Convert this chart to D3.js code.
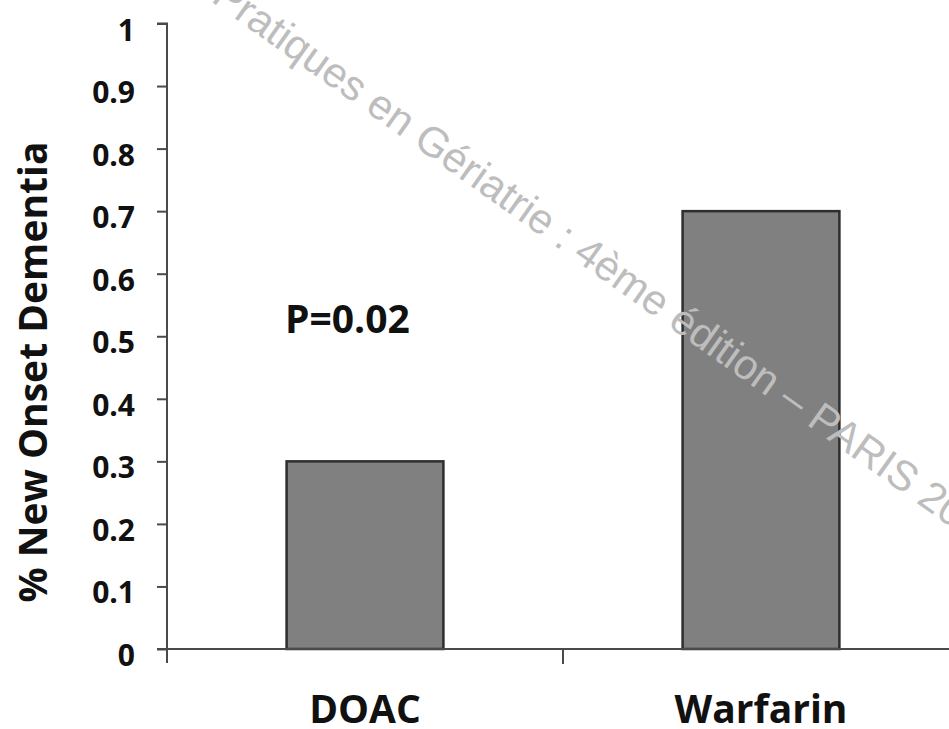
<!DOCTYPE html>
<html><head><meta charset="utf-8">
<script src="https://cdn.jsdelivr.net/npm/d3@7"></script>
<style>html,body{margin:0;padding:0;background:#fff;}svg{display:block;}</style>
</head><body>
<script>
const categories = ["DOAC", "Warfarin"];
const values = [0.3, 0.7];
const yTicks = [0, 0.1, 0.2, 0.3, 0.4, 0.5, 0.6, 0.7, 0.8, 0.9, 1];
const yTitle = "% New Onset Dementia";
const annotation = "P=0.02";
const watermarkA = "Pratiques en Gériatrie :";
const watermarkB = " 4ème édition – PARIS 20";

const W = 949, H = 729;
const svg = d3.select("body").append("svg").attr("width", W).attr("height", H);
const font = "'Open Sans', 'DejaVu Sans', sans-serif";

const x = d3.scaleBand().domain(categories).range([167, 959]).paddingInner(0.604).paddingOuter(0.302);
const y = d3.scaleLinear().domain([0, 1]).range([649, 23.5]);

// bars
svg.selectAll("rect.bar").data(values).enter().append("rect")
  .attr("x", (d, i) => x(categories[i]))
  .attr("y", d => y(d))
  .attr("width", x.bandwidth())
  .attr("height", d => y(0) - y(d))
  .attr("fill", "#808080").attr("stroke", "#2e2e2e").attr("stroke-width", 2.5);

// y axis
const yAxis = svg.append("g").attr("transform", "translate(167,0)")
  .call(d3.axisLeft(y).tickValues(yTicks).tickSize(10).tickPadding(22)
    .tickFormat(d => d === 0 || d === 1 ? String(d) : d3.format(".1f")(d)));
yAxis.select(".domain").attr("stroke", "#4a4a4a").attr("stroke-width", 2)
  .attr("d", "M-10,23.5H0V663");
yAxis.selectAll(".tick line").attr("stroke", "#4a4a4a").attr("stroke-width", 2);
yAxis.selectAll(".tick text").attr("font-family", font).attr("font-weight", 700)
  .attr("font-size", 30).attr("dy", "0.55em").attr("fill", "#111");

// x axis
const xAxis = svg.append("g").attr("transform", "translate(0,649)");
xAxis.append("line").attr("x1", 157).attr("x2", 959).attr("y1", 0).attr("y2", 0)
  .attr("stroke", "#4a4a4a").attr("stroke-width", 2);
const boundaries = [x(categories[1]) - x.step() * x.paddingInner() / 2];
xAxis.selectAll("line.tk").data(boundaries).enter().append("line")
  .attr("x1", d => d).attr("x2", d => d).attr("y1", 0).attr("y2", 15)
  .attr("stroke", "#4a4a4a").attr("stroke-width", 2);
xAxis.selectAll("text.cat").data(categories).enter().append("text")
  .attr("x", d => x(d) + x.bandwidth() / 2).attr("y", 74)
  .attr("text-anchor", "middle").attr("font-family", font).attr("font-weight", 700)
  .attr("font-size", 39).attr("fill", "#111").text(d => d);

// y title
svg.append("text").attr("transform", "translate(47,372) rotate(-90)")
  .attr("text-anchor", "middle").attr("font-family", font).attr("font-weight", 700)
  .attr("font-size", 39).attr("fill", "#111").text(yTitle);

// annotation
svg.append("text").attr("x", 285).attr("y", 333).attr("font-family", font).attr("font-weight", 700)
  .attr("font-size", 39).attr("fill", "#111").text(annotation);

// watermark
const wm = svg.append("g").attr("transform", "translate(562,251) rotate(35.4)")
  .attr("font-family", "'Liberation Sans', Arial, sans-serif")
  .attr("font-size", 42).attr("fill", "#bdbdbd");
wm.append("text").attr("text-anchor", "end").text(watermarkA);
wm.append("text").attr("text-anchor", "start").attr("xml:space", "preserve").text(watermarkB);
</script>
</body></html>
